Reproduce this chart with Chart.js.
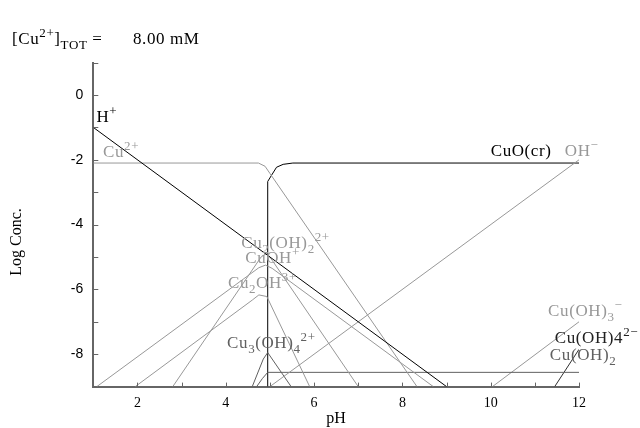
<!DOCTYPE html>
<html>
<head>
<meta charset="utf-8">
<script src="https://cdn.jsdelivr.net/npm/chart.js@4.4.0/dist/chart.umd.min.js"></script>
<style>
  body { margin: 0; background: #fff; }
</style>
</head>
<body>
<canvas id="myChart" width="640" height="428"></canvas>
<script>
// log concentration vs pH, pairs of [pH, log C]
const hPlus   = [[1, -1], [9, -9]];
const ohMinus = [[5, -9], [12, -2]];
const cu2     = [[1, -2.1], [4.74, -2.1], [4.89, -2.2], [5.0, -2.42], [8.33, -9]];
const cuOH    = [[1.08, -9], [4.75, -5.33], [4.9, -5.25], [5.05, -5.35], [8.7, -9]];
const cu2OH2  = [[2.8, -9], [4.8, -5.0], [4.93, -4.88], [5.05, -5.1], [7.0, -9]];
const cu2OH   = [[1.95, -9], [4.6, -6.33], [4.75, -6.17], [4.93, -6.22], [5.9, -9]];
const cu3OH4  = [[4.6, -9], [4.85, -8.15], [4.95, -7.95], [5.48, -9]];
const cuOH2   = [[4.7, -9], [4.83, -8.75], [4.95, -8.56], [12, -8.56]];
const cuOH3   = [[10.04, -9], [12, -7.0]];
const cuOH4   = [[11.45, -9], [12, -7.85]];
const cuO     = [[4.95, -9], [4.95, -2.67], [5.04, -2.47], [5.15, -2.23], [5.3, -2.14], [5.52, -2.1], [12, -2.1]];

const xTickLabels = [2, 4, 6, 8, 10, 12];
const yTickLabels = [0, -2, -4, -6, -8];

const GREY = '#989898';
const DARK = '#606060';

const series = [
  { name: 'H+', data: hPlus, color: '#000' },
  { name: 'OH-', data: ohMinus, color: GREY },
  { name: 'Cu2+', data: cu2, color: GREY },
  { name: 'CuOH+', data: cuOH, color: GREY },
  { name: 'Cu2(OH)2 2+', data: cu2OH2, color: GREY },
  { name: 'Cu2OH 3+', data: cu2OH, color: GREY },
  { name: 'Cu3(OH)4 2+', data: cu3OH4, color: DARK },
  { name: 'Cu(OH)2', data: cuOH2, color: DARK },
  { name: 'Cu(OH)3-', data: cuOH3, color: GREY },
  { name: 'Cu(OH)4 2-', data: cuOH4, color: '#303030' },
  { name: 'CuO(cr)', data: cuO, color: '#000' }
];

// species names with super/subscripts, placed at [pH, log C]
const speciesLabels = [
  { parts: [['H', ''], ['+', 'sup']], at: [1.07, -0.82], color: '#000' },
  { parts: [['Cu', ''], ['2+', 'sup']], at: [1.22, -1.9], color: GREY },
  { parts: [['CuO(cr)', '']], at: [10.0, -1.87], color: '#000' },
  { parts: [['OH', ''], ['\u2212', 'sup']], at: [11.68, -1.87], color: GREY },
  { parts: [['Cu', ''], ['2', 'sub'], ['(OH)', ''], ['2', 'sub'], ['2+', 'sup']], at: [4.35, -4.72], color: GREY },
  { parts: [['CuOH', ''], ['+', 'sup']], at: [4.44, -5.19], color: GREY },
  { parts: [['Cu', ''], ['2', 'sub'], ['OH', ''], ['3+', 'sup']], at: [4.05, -5.96], color: GREY },
  { parts: [['Cu', ''], ['3', 'sub'], ['(OH)', ''], ['4', 'sub'], ['2+', 'sup']], at: [4.03, -7.81], color: DARK },
  { parts: [['Cu(OH)', ''], ['3', 'sub'], ['\u2212', 'sup']], at: [11.3, -6.82], color: GREY },
  { parts: [['Cu(OH)', ''], ['4', ''], ['2\u2212', 'sup']], at: [11.45, -7.65], color: '#202020' },
  { parts: [['Cu(OH)', ''], ['2', 'sub']], at: [11.34, -8.18], color: DARK }
];

const SERIF = '"Liberation Serif", "DejaVu Serif", serif';
const LABEL_SIZE = 17;

function drawRich(ctx, x, y, parts, color, size) {
  let cx = x;
  ctx.fillStyle = color;
  ctx.textBaseline = 'alphabetic';
  ctx.textAlign = 'left';
  ctx.letterSpacing = '0.6px';
  parts.forEach(([txt, mode]) => {
    const fs = mode ? Math.round(size * 0.78) : size;
    ctx.font = fs + 'px ' + SERIF;
    const dy = mode === 'sup' ? -size * 0.4 : (mode === 'sub' ? size * 0.28 : 0);
    ctx.fillText(txt, cx, y + dy);
    cx += ctx.measureText(txt).width;
  });
  ctx.letterSpacing = '0px';
  return cx;
}

const annotate = {
  id: 'annotate',
  afterDraw(chart) {
    const { ctx, scales: { x, y } } = chart;
    ctx.save();

    // tick marks pointing into the plot
    ctx.strokeStyle = '#666';
    ctx.lineWidth = 1;
    x.ticks.forEach(t => {
      const px = Math.round(x.getPixelForValue(t.value)) + 0.5;
      ctx.beginPath();
      ctx.moveTo(px, y.bottom);
      ctx.lineTo(px, y.bottom - 4);
      ctx.stroke();
    });
    y.ticks.forEach(t => {
      const py = Math.round(y.getPixelForValue(t.value)) + 0.5;
      ctx.beginPath();
      ctx.moveTo(x.left, py);
      ctx.lineTo(x.left + 5, py);
      ctx.stroke();
    });

    // species names
    speciesLabels.forEach(l => {
      drawRich(ctx, x.getPixelForValue(l.at[0]), y.getPixelForValue(l.at[1]), l.parts, l.color, LABEL_SIZE);
    });

    // total copper heading
    drawRich(ctx, 12, 44, [['[Cu', ''], ['2+', 'sup'], [']', ''], ['TOT', 'sub'], [' =', '']], '#000', LABEL_SIZE);
    drawRich(ctx, 133, 44, [['8.00 mM', '']], '#000', LABEL_SIZE);

    // y axis title
    ctx.translate(17, 242);
    ctx.rotate(-Math.PI / 2);
    ctx.font = '16px ' + SERIF;
    ctx.fillStyle = '#000';
    ctx.textAlign = 'center';
    ctx.textBaseline = 'middle';
    ctx.fillText('Log Conc.', 0, 0);
    ctx.restore();
  }
};

const ctx = document.getElementById('myChart').getContext('2d');
const myChart = new Chart(ctx, {
  type: 'scatter',
  data: {
    datasets: series.map(s => ({
      label: s.name,
      data: s.data.map(p => ({ x: p[0], y: p[1] })),
      showLine: true,
      borderColor: s.color,
      borderWidth: 1,
      pointRadius: 0,
      fill: false,
      tension: 0
    }))
  },
  options: {
    responsive: false,
    animation: false,
    layout: { padding: { top: 62.6, right: 61, bottom: 0, left: 0 } },
    plugins: {
      legend: { display: false },
      tooltip: { enabled: false }
    },
    scales: {
      x: {
        type: 'linear',
        min: 1,
        max: 12,
        grid: { display: false, drawTicks: false },
        border: { display: true, color: '#666', width: 2 },
        ticks: {
          stepSize: 1,
          autoSkip: false,
          maxRotation: 0,
          padding: 8,
          color: '#000',
          font: { family: SERIF, size: 14 },
          callback: v => xTickLabels.includes(v) ? String(v) : ''
        },
        title: {
          display: true,
          text: 'pH',
          color: '#000',
          font: { family: SERIF, size: 16 },
          padding: { top: 0, bottom: 0 }
        },
        afterFit: s => { s.height = 41.4; }
      },
      y: {
        type: 'linear',
        min: -9,
        max: 1,
        grid: { display: false, drawTicks: false },
        border: { display: true, color: '#666', width: 2 },
        ticks: {
          stepSize: 1,
          autoSkip: false,
          padding: 10,
          color: '#000',
          font: { family: '"Liberation Sans", Arial, sans-serif', size: 14 },
          callback: v => yTickLabels.includes(v) ? String(v) : ''
        },
        afterFit: s => { s.width = 93.3; }
      }
    }
  },
  plugins: [annotate]
});
</script>
</body>
</html>
